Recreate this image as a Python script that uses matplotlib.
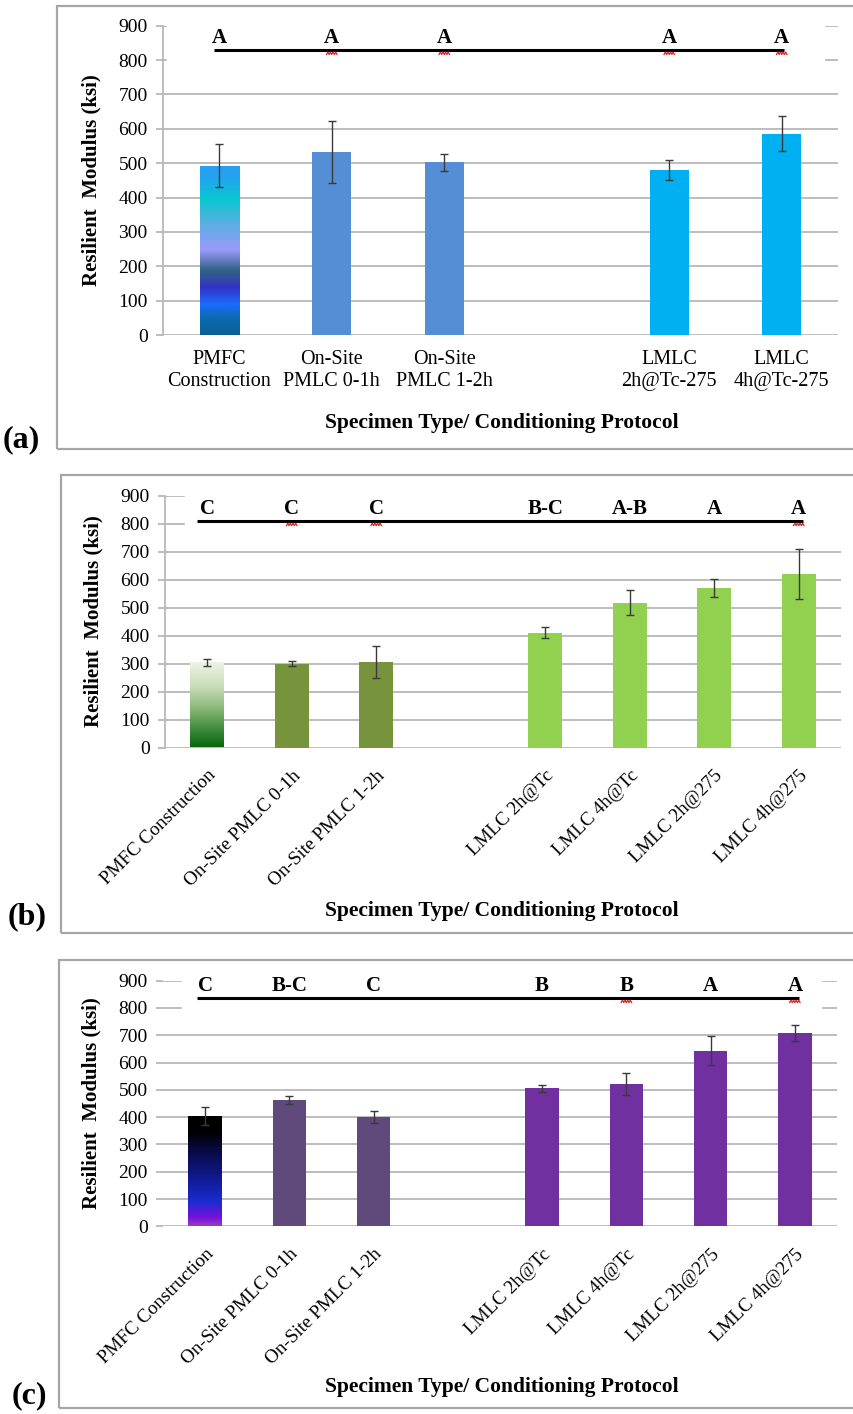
import numpy as np
import matplotlib.pyplot as plt
from matplotlib.colors import LinearSegmentedColormap
from matplotlib.patches import Rectangle
from matplotlib.transforms import blended_transform_factory

plt.rcParams['font.family'] = ['Liberation Serif', 'DejaVu Serif']

W, H = 854, 1414

# ---- data -------------------------------------------------------------
labels_a = ["PMFC\nConstruction", "On-Site\nPMLC 0-1h", "On-Site\nPMLC 1-2h",
            "LMLC\n2h@Tc-275", "LMLC\n4h@Tc-275"]
mr_a = [493, 533, 502, 481, 586]
sd_a = [62, 90, 25, 29, 52]
grp_a = ["A", "A", "A", "A", "A"]

labels_bc = ["PMFC Construction", "On-Site PMLC 0-1h", "On-Site PMLC 1-2h",
             "LMLC 2h@Tc", "LMLC 4h@Tc", "LMLC 2h@275", "LMLC 4h@275"]

mr_b = [304, 300, 306, 410, 517, 570, 619]
sd_b = [14, 10, 56, 20, 45, 33, 89]
grp_b = ["C", "C", "C", "B-C", "A-B", "A", "A"]

mr_c = [404, 463, 400, 505, 521, 643, 707]
sd_c = [33, 13, 21, 13, 40, 53, 29]
grp_c = ["C", "B-C", "C", "B", "B", "A", "A"]

# letters flagged by the spell checker (red wavy underline)
squig_a = [1, 2, 3, 4]
squig_b = [1, 2, 6]
squig_c = [4, 6]

# ---- styles -----------------------------------------------------------
cols_a = [None, "#558ed5", "#558ed5", "#00b0f0", "#00b0f0"]
cols_b = [None, "#77933c", "#77933c", "#92d050", "#92d050", "#92d050", "#92d050"]
cols_c = [None, "#604a7b", "#604a7b", "#7030a0", "#7030a0", "#7030a0", "#7030a0"]

grad_a = LinearSegmentedColormap.from_list("ga", [
    (0.0, "#0b5f96"), (0.1, "#0c6cb0"), (0.18, "#1a6cff"), (0.28, "#3232c4"),
    (0.38, "#2f6383"), (0.5, "#9a9afa"), (0.66, "#5aaee2"), (0.8, "#08c8d0"),
    (0.92, "#20a6ee"), (1.0, "#2a9cf4")])
grad_b = LinearSegmentedColormap.from_list("gb", [
    (0.0, "#0a650e"), (0.2, "#3c8a3a"), (0.45, "#8ab878"), (0.7, "#c8dcb8"),
    (1.0, "#eef4e8")])
grad_c = LinearSegmentedColormap.from_list("gc", [
    (0.0, "#9a3cc0"), (0.08, "#7410dc"), (0.22, "#1a2cd0"), (0.45, "#10188c"),
    (0.7, "#08083c"), (0.85, "#000000"), (1.0, "#000000")])

GRID = "#b8b8b8"
FRAME = "#a6a6a6"

fig = plt.figure(figsize=(W / 100, H / 100), dpi=100)


def frac(left, top, right, bottom):
    return [left / W, 1 - bottom / H, (right - left) / W, (bottom - top) / H]


def panel(box, frame, labels, vals, errs, groups, squig, colors, cmap, width,
          sig_y, sig_x, cover_x, rotated, show_yaxis, tag, tag_xy, xlab_y):
    # gray frame around the whole panel (runs off the right edge)
    fx0, fy0, fy1 = frame
    fig.add_artist(Rectangle((fx0 / W, 1 - fy1 / H), (W + 20 - fx0) / W,
                             (fy1 - fy0) / H, transform=fig.transFigure,
                             fill=False, ec=FRAME, lw=1.6))

    ax = fig.add_axes(frac(*box))
    n = len(vals)
    idx = np.arange(n)
    x = idx + (idx >= 3)          # empty slot between field and lab mixes
    xmax = x[-1] + 0.5

    ax.set_yticks(np.arange(0, 901, 100))
    for v in range(100, 901, 100):
        ax.axhline(v, color=GRID, lw=1.3, zorder=0)
    ax.axhline(0, color=GRID, lw=1.3, zorder=1)

    # white box behind the grouping letters hides the top gridlines
    tr = blended_transform_factory(ax.transAxes, ax.transData)
    ax.add_patch(Rectangle((cover_x[0], 760), cover_x[1] - cover_x[0], 150,
                           transform=tr, color="white", zorder=0.5))

    bars = ax.bar(x, vals, width=width, color=[c or "none" for c in colors],
                  zorder=2)
    ax.errorbar(x, vals, yerr=errs, fmt="none", ecolor="#3a3a3a",
                elinewidth=1.0, capsize=3.2, capthick=1.0, zorder=3)

    # gradient fill for the plant-mixed bar
    b0 = bars[0]
    grad = np.linspace(0, 1, 256).reshape(-1, 1)
    im = ax.imshow(grad, cmap=cmap, aspect="auto", origin="lower",
                   extent=(b0.get_x(), b0.get_x() + b0.get_width(), 0,
                           b0.get_height()), zorder=2)
    im.set_clip_path(b0)
    ax.set_xlim(-0.5, xmax)
    ax.set_ylim(0, 900)

    # statistical grouping line and letters
    ax.plot([x[0] + sig_x[0], x[-1] + sig_x[1]], [sig_y, sig_y], color="black",
            lw=2.2, solid_capstyle="butt", zorder=4)
    for xi, g in zip(x, groups):
        ax.text(xi, sig_y + 6, g, ha="center", va="bottom",
                fontsize=15, fontweight="bold", zorder=5)

    # red wavy underline under some letters
    px = (xmax + 0.5) / (box[2] - box[0])
    py = 900 / (box[3] - box[1])
    k = np.arange(9)
    for i in squig:
        ax.plot(x[i] + (k - 4) * 1.3 * px,
                sig_y - (3.5 + 1.2 * (-1) ** k) * py,
                color="#e02020", lw=0.9, zorder=4)

    for s in ["top", "right", "bottom"]:
        ax.spines[s].set_visible(False)
    ax.spines["left"].set_color(GRID if show_yaxis else "none")
    ax.spines["left"].set_linewidth(1.3)
    ax.tick_params(axis="y", length=5, width=1.3, color=GRID, pad=6,
                   labelsize=14)
    ax.tick_params(axis="x", length=0)
    ax.set_xticks(x)
    if rotated:
        ax.set_xticklabels(labels, rotation=45, ha="right",
                           rotation_mode="anchor", fontsize=13.8)
        ax.tick_params(axis="x", pad=14)
    else:
        ax.set_xticklabels(labels, fontsize=14.5, linespacing=1.2)
        ax.tick_params(axis="x", pad=11)

    ax.set_ylabel("Resilient  Modulus (ksi)", fontsize=15,
                  fontweight="bold", labelpad=12)
    fig.text(502 / W, 1 - xlab_y / H, "Specimen Type/ Conditioning Protocol",
             ha="center", va="center", fontsize=15.5, fontweight="bold")
    fig.text(tag_xy[0] / W, 1 - tag_xy[1] / H, tag, ha="left", va="center",
             fontsize=23, fontweight="bold")
    return ax


panel((163, 25.7, 838, 335), (57, 6, 449), labels_a, mr_a, sd_a, grp_a,
      squig_a, cols_a, grad_a, 0.35, 830, (-0.05, 0.02), (0.006, 0.98),
      False, True, "(a)", (3, 440), 423)
panel((165, 495.7, 841, 747.5), (61, 475, 933), labels_bc, mr_b, sd_b, grp_b,
      squig_b, cols_b, grad_b, 0.40, 810, (-0.12, 0.05), (0.03, 1.0),
      True, True, "(b)", (8, 917), 911)
panel((163, 980.7, 837, 1226.3), (59, 960, 1408), labels_bc, mr_c, sd_c, grp_c,
      squig_c, cols_c, grad_c, 0.40, 837, (-0.1, 0.05), (0.028, 0.976),
      True, False, "(c)", (12, 1396), 1387)

fig.savefig("out.png", dpi=100)
